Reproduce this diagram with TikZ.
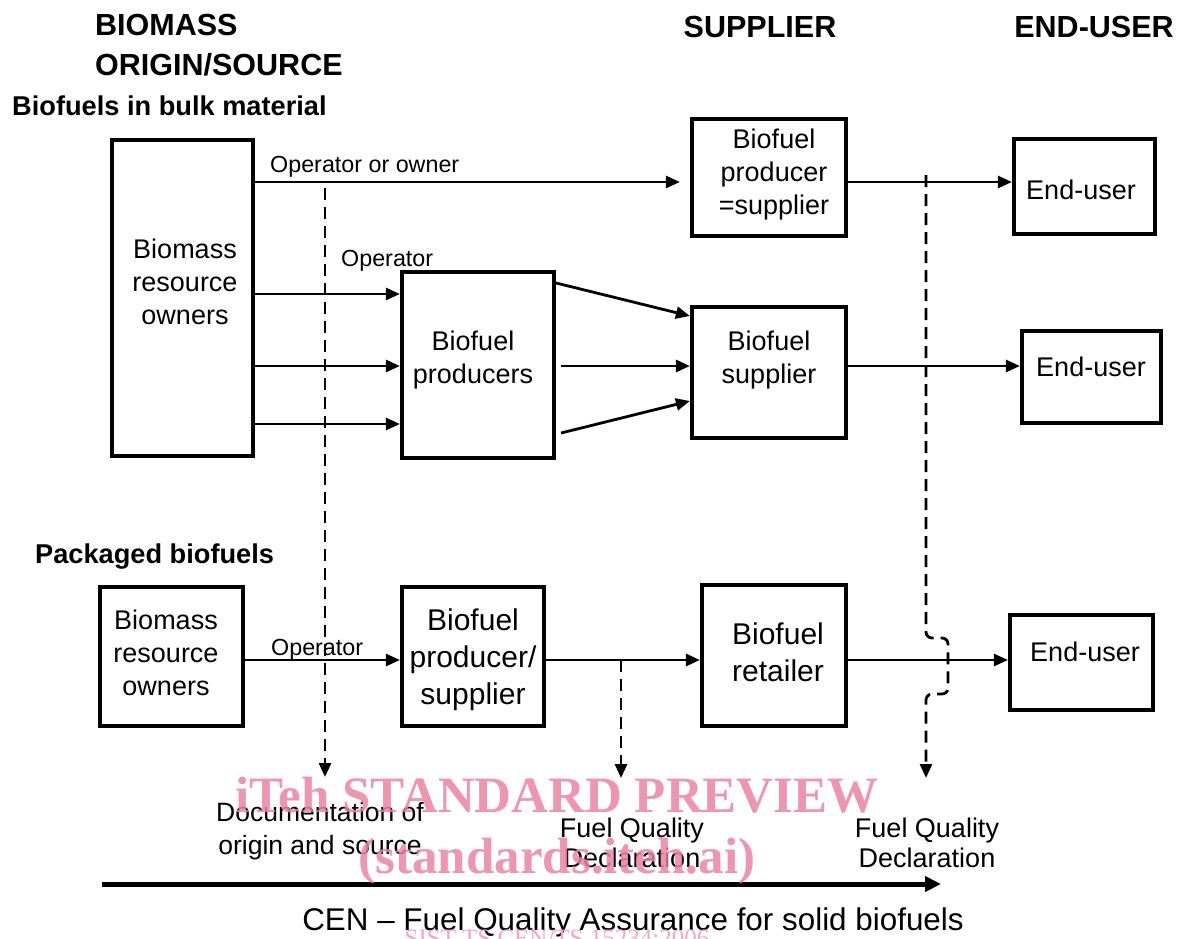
\documentclass[tikz,border=0pt]{standalone}
\usepackage{fontspec}
\setmainfont{Liberation Sans}
\newfontfamily\wmfont{Liberation Serif}
\usetikzlibrary{arrows.meta,calc}
\definecolor{wmpink}{RGB}{236,131,163}
\begin{document}
\begin{tikzpicture}[x=1pt,y=-1pt,
  box/.style={draw, line width=4.2pt, inner sep=0pt, rectangle},
  txt/.style={align=center, inner sep=0pt, font=\fontsize{27}{33}\selectfont},
  txtL/.style={align=center, inner sep=0pt, font=\fontsize{30}{37}\selectfont},
  txtD/.style={align=center, inner sep=0pt, font=\fontsize{26.5}{33}\selectfont},
  lbl/.style={inner sep=0pt, font=\fontsize{23.3}{27}\selectfont},
  hdr/.style={inner sep=0pt, font=\bfseries\fontsize{30.5}{36}\selectfont},
  sec/.style={inner sep=0pt, font=\bfseries\fontsize{27.2}{31}\selectfont},
  arr/.style={line width=2.8pt, -{Triangle[length=14pt,width=12pt]}},
  dsh/.style={line width=2.8pt, dash pattern=on 12pt off 7pt, -{Triangle[length=14pt,width=12pt]}},
  big/.style={line width=5pt, -{Triangle[length=16pt,width=15pt]}},
  wm/.style={inner sep=0pt, text=wmpink, text opacity=0.85, font=\wmfont\bfseries\fontsize{51}{60}\selectfont}
]
\fill[white] (0,0) rectangle (1177,938);
\clip (0,0) rectangle (1177,938);

% headers
\node[hdr, anchor=base west] (h1) at (95,35) {BIOMASS};
\node[hdr, anchor=base west] (h2) at (95,75) {ORIGIN/SOURCE};
\node[hdr, anchor=base] (h3) at (760,37) {SUPPLIER};
\node[hdr, anchor=base] (h4) at (1094,37) {END-USER};
\node[sec, anchor=base west] (s1) at (12,115) {Biofuels in bulk material};
\node[sec, anchor=base west] (s2) at (35,563) {Packaged biofuels};

% boxes
\node[box, minimum width=141pt, minimum height=316pt] (bro) at (182.5,298) {};
\node[txt] (brot) at (185,282) {Biomass\\resource\\owners};
\node[box, minimum width=154pt, minimum height=117pt] (pst) at (769,177.5) {};
\node[txt] (pstt) at (774,175) {Biofuel\\producer\\=supplier};
\node[box, minimum width=141pt, minimum height=95pt] (eu1) at (1084.5,186.5) {};
\node[txt] (eu1t) at (1081,190) {End-user};
\node[box, minimum width=152pt, minimum height=186pt] (prods) at (478,365) {};
\node[txt] (prodst) at (473,360) {Biofuel\\producers};
\node[box, minimum width=154pt, minimum height=131pt] (sup) at (769,372.5) {};
\node[txt] (supt) at (769,360) {Biofuel\\supplier};
\node[box, minimum width=139pt, minimum height=92pt] (eu2) at (1091.5,377) {};
\node[txt] (eu2t) at (1091,367) {End-user};
\node[box, minimum width=143pt, minimum height=139pt] (bro2) at (171.5,656.5) {};
\node[txt] (bro2t) at (166,653) {Biomass\\resource\\owners};
\node[box, minimum width=142pt, minimum height=139pt] (pps) at (473,656.5) {};
\node[txtL] (ppst) at (473,660) {Biofuel\\producer/\\supplier};
\node[box, minimum width=144pt, minimum height=141pt] (ret) at (774,655.5) {};
\node[txtL] (rett) at (778,652) {Biofuel\\retailer};
\node[box, minimum width=143pt, minimum height=95pt] (eu3) at (1081.5,662.5) {};
\node[txt] (eu3t) at (1085,652) {End-user};

% arrows
\draw[arr, shorten >=10pt] (bro.east |- 0,182) -- (pst.west |- 0,182);
\draw[arr] (pst.east |- 0,182) -- (eu1.west |- 0,182);
\draw[arr] (bro.east |- 0,294) -- (prods.west |- 0,294);
\draw[arr] (bro.east |- 0,366) -- (prods.west |- 0,366);
\draw[arr] (bro.east |- 0,424) -- (prods.west |- 0,424);
\draw[arr] (prods.east |- 0,283) -- (sup.west |- 0,316);
\draw[arr] ($(prods.east |- 0,366)+(5,0)$) -- (sup.west |- 0,366);
\draw[arr] ($(prods.east |- 0,433)+(5,0)$) -- (sup.west |- 0,401);
\draw[arr] (sup.east |- 0,366) -- (eu2.west |- 0,366);
\draw[arr] (bro2.east |- 0,660) -- (pps.west |- 0,660);
\draw[arr] (pps.east |- 0,660) -- (ret.west |- 0,660);
\draw[arr] (ret.east |- 0,660) -- (eu3.west |- 0,660);

% labels
\node[lbl, anchor=base west] (op1) at (270,172) {Operator or owner};
\node[lbl, anchor=base west] (op2) at (341,266) {Operator};
\node[lbl, anchor=base west] (op3) at (271,655) {Operator};

% dashed
\coordinate (d1a) at (325,188);
\coordinate (d1b) at (325,777);
\coordinate (d2a) at (621,660);
\coordinate (d2b) at (621,778);
\coordinate (d3a) at (926,175);
\coordinate (d3b) at (926,778);
\draw[dsh] (d1a) -- (d1b);
\draw[dsh] (d2a) -- (d2b);
\draw[dsh, rounded corners=6pt] (d3a) |- (948,638) |- (d3b |- 0,694) -- (d3b);

% bottom texts
\node[txtD] (doc) at (320,831) {Documentation of\\origin and source};
\node[txtD, font=\fontsize{27}{30}\selectfont] (fq1) at (632,843) {Fuel Quality\\Declaration};
\node[txtD, font=\fontsize{27}{30}\selectfont] (fq2) at (927,843) {Fuel Quality\\Declaration};

\coordinate (ba) at (102,884);
\coordinate (bb) at (941,884);
\draw[big] (ba) -- (bb);

\node[inner sep=0pt, font=\fontsize{31.4}{36}\selectfont] (cen) at (633,922) {CEN – Fuel Quality Assurance for solid biofuels};

% watermark
\node[wm, anchor=base] (w1) at (557,812) {iTeh STANDARD PREVIEW};
\node[wm, anchor=base] (w2) at (557,873) {(standards.iteh.ai)};
\node[inner sep=0pt, anchor=base, text=wmpink!70, font=\wmfont\fontsize{25}{30}\selectfont] (w3) at (557,946) {SIST-TS CEN/TS 15234:2006};
\end{tikzpicture}
\end{document}
